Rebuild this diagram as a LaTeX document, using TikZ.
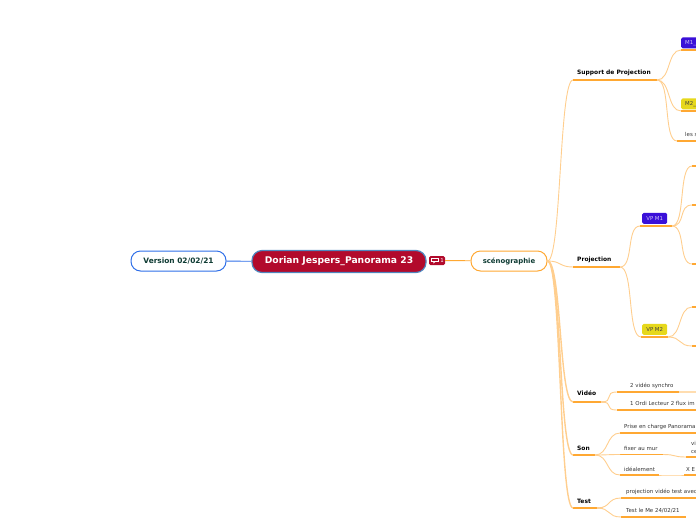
\documentclass[tikz,border=0pt]{standalone}
\usepackage{fontspec}
\setmainfont{DejaVu Sans}
\definecolor{trunk}{HTML}{FFCE8E}
\definecolor{rule}{HTML}{FFA832}
\definecolor{paler}{HTML}{FFDDB0}
\definecolor{crimson}{HTML}{B20A2C}
\definecolor{deepgreen}{HTML}{0E3B33}
\definecolor{edgeblue}{HTML}{2F6FE8}
\definecolor{rootedge}{HTML}{4F86BE}
\definecolor{violetfill}{HTML}{3A10D8}
\definecolor{yellowfill}{HTML}{E6D81C}
\tikzset{
  curve/.style={draw=trunk,line width=0.9pt},
  heavy/.style={draw=trunk,line width=1.4pt},
  under/.style={draw=rule,line width=1.5pt},
  faint/.style={draw=paler,line width=1.5pt},
  label/.style={anchor=west,inner sep=0pt,yshift=-0.7pt,text=black!80,font=\fontsize{5.45}{7.6}\selectfont,align=left},
  title/.style={anchor=west,inner sep=0pt,text=black,font=\fontsize{5.95}{7}\selectfont\bfseries},
  pill/.style={rounded corners=9.5pt,line width=1pt,fill=white,text=deepgreen,font=\fontsize{7.4}{8}\selectfont\bfseries,inner sep=0pt},
  tag/.style={rounded corners=1.5pt,anchor=south west,minimum height=11pt,inner sep=0pt,font=\fontsize{5.4}{6}\selectfont},
}
% A branch: named ends of its rule, the rule itself, and the caption sitting on it.
\newcommand{\twig}[7]{%
  \coordinate (#1-l) at (#2,#4);
  \coordinate (#1-r) at (#3,#4);
  \draw[under] (#1-l) -- (#1-r);
  \node[#7] (#1) at (#5,#4-7) {#6};
}
% A bare rule with no caption.
\newcommand{\stub}[4]{%
  \coordinate (#1-l) at (#2,#4);
  \coordinate (#1-r) at (#3,#4);
  \draw[under] (#1-l) -- (#1-r);
}
\newcommand{\link}[3][curve]{%
  \draw[#1] (#2) .. controls ($(#2)+(14,0)$) and ($(#3)+(-14,0)$) .. (#3);
}
\usetikzlibrary{calc}
\begin{document}
\begin{tikzpicture}[x=1pt,y=-1pt]
\useasboundingbox (0,0) rectangle (696,520);
\clip (0,0) rectangle (696,520);

% Central topic and its two neighbours
\node[pill,draw=edgeblue,minimum width=95pt,minimum height=20pt] (version) at (178.5,261) {Version 02/02/21};
\node[rounded corners=10pt,fill=crimson,draw=rootedge,line width=1.2pt,text=white,
      font=\fontsize{9.2}{10}\selectfont\bfseries,minimum width=174pt,minimum height=22pt,inner sep=0pt] (root) at (339,261.5) {Dorian Jespers\_Panorama 23};
\node[rounded corners=1.5pt,fill=crimson,minimum width=16pt,minimum height=9pt,inner sep=0pt] (badge) at (437,260.5) {};
\node[inner sep=0pt,text=white,font=\fontsize{5.4}{6}\selectfont] (count) at (442,260.5) {1};
\draw[white,line width=0.6pt] (431.5,258) rectangle (438,261.5);
\draw[white,line width=0.5pt] (433.5,261.5) -- (433.5,263) -- (435.5,261.5);
\node[pill,draw=rule,font=\fontsize{6.9}{8}\selectfont\bfseries,minimum width=76pt,minimum height=20pt] (scene) at (509,261) {scénographie};
\draw[edgeblue,line width=0.9pt] (version) -- (root);
\draw[rule,line width=0.9pt] (badge) -- (scene);

% First-level branches
\twig{support}{573}{657}{80}{577}{Support de Projection}{title}
\twig{project}{573}{620}{267}{577}{Projection}{title}
\twig{video}{573}{601}{402}{577}{Vidéo}{title,yshift=1.7pt}
\twig{sound}{573}{595}{455}{577}{Son}{title}
\twig{check}{573}{597}{508}{577}{Test}{title}
\draw[faint] (video-r) -- (606,402);
\draw[faint] (check-r) -- (603,508);
\link{scene.east}{support-l}
\link{scene.east}{project-l}
\link[heavy]{scene.east}{video-l}
\link[heavy]{scene.east}{sound-l}
\link[heavy]{scene.east}{check-l}

% Screens
\node[tag,fill=violetfill,text=white!75!violetfill,minimum width=30pt,text width=28pt,align=left] (m1) at (681,48.5) {\hspace{3pt}M1\_};
\stub{m1u}{681}{696}{50}
\node[tag,fill=yellowfill,text=black!75,minimum width=30pt,text width=28pt,align=left] (m2) at (681,109.5) {\hspace{3pt}M2\_};
\stub{m2u}{681}{696}{111}
\twig{sides}{677}{696}{141}{685}{les s}{label}
\link{support-r}{m1u-l}
\link{support-r}{m2u-l}
\link{support-r}{sides-l}

% Projectors
\node[tag,fill=violetfill,text=white!75!violetfill,minimum width=25pt] (vp1) at (642,224) {VP M1};
\stub{vp1u}{640}{672}{226}
\node[tag,fill=yellowfill,text=black!75,minimum width=25pt] (vp2) at (642,335) {VP M2};
\stub{vp2u}{641}{668}{337}
\link{project-r}{vp1u-l}
\link{project-r}{vp2u-l}
\stub{a1}{692}{696}{166}
\stub{a2}{692}{696}{205}
\stub{a3}{692}{696}{264}
\stub{b1}{692}{696}{307}
\stub{b2}{692}{696}{346}
\link{vp1u-r}{a1-l}
\link{vp1u-r}{a2-l}
\link{vp1u-r}{a3-l}
\link{vp2u-r}{b1-l}
\link{vp2u-r}{b2-l}

% Video
\twig{synchro}{617}{679}{392}{630}{2 vidéo synchro}{label}
\draw[faint] (synchro-r) -- (696,392);
\twig{player}{617}{696}{410}{630}{1 Ordi Lecteur 2 flux im}{label}
\link{video-r}{synchro-l}
\link{video-r}{player-l}

% Sound
\twig{panorama}{620}{696}{433}{624}{Prise en charge Panorama}{label}
\twig{wall}{620}{663}{454.5}{624}{fixer au mur}{label}
\twig{ideal}{620}{659}{475}{624}{idéalement}{label,yshift=-0.7pt}
\coordinate (wallnote-l) at (686,457);
\coordinate (wallnote-r) at (696,457);
\draw[under] (wallnote-l) -- (wallnote-r);
\node[label] (wallnote) at (691,446.5) {vi\\ce};
\twig{xnote}{684}{696}{475}{686}{X E}{label,yshift=-0.7pt}
\link{sound-r}{panorama-l}
\link{sound-r}{wall-l}
\link{sound-r}{ideal-l}
\link{wall-r}{wallnote-l}
\link{ideal-r}{xnote-l}

% Test
\twig{trial}{621}{696}{498}{626}{projection vidéo test avec}{label}
\twig{date}{621}{686}{517}{626}{Test le Me 24/02/21}{label}
\link{check-r}{trial-l}
\link{check-r}{date-l}
\end{tikzpicture}
\end{document}
